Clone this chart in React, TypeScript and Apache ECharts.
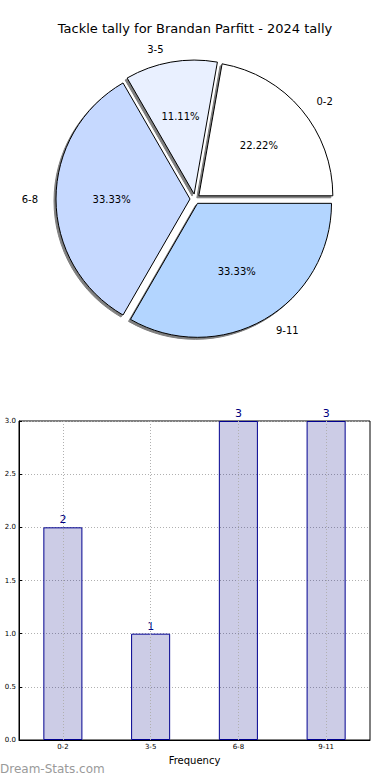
import React, { useEffect, useRef } from "react";
import * as echarts from "echarts";

const titleText = "Tackle tally for Brandan Parfitt - 2024 tally";
const categories = ["0-2", "3-5", "6-8", "9-11"];
const counts = [2, 1, 3, 3];
const pieColors = ["#ffffff", "#e9f0ff", "#c6d9ff", "#b3d5ff"];
const yTicks = { min: 0, max: 3, interval: 0.5 };
const xAxisName = "Frequency";
const watermark = "Dream-Stats.com";

const FONT = "DejaVu Sans";

export default function App() {
  const ref = useRef<HTMLDivElement>(null);
  useEffect(() => {
    document.body.style.margin = "0";
    if (!ref.current) return;
    const chart = echarts.init(ref.current, undefined, { renderer: "svg" });
    const total = counts.reduce((a, b) => a + b, 0);
    const R = 134;
    const pieData = categories.map((c, i) => ({
      name: c,
      value: counts[i],
      selected: true,
      itemStyle: { color: pieColors[i] },
    }));
    chart.setOption({
      animation: false,
      textStyle: { fontFamily: FONT },
      title: {
        text: titleText,
        left: "center",
        top: 17,
        textStyle: { fontFamily: FONT, fontSize: 13, fontWeight: "normal", color: "#000" },
      },
      grid: { left: 19, right: 20, top: 421, bottom: 40, show: true, borderColor: "#000", borderWidth: 1 },
      xAxis: {
        type: "category",
        data: categories,
        axisLine: { show: true, lineStyle: { color: "#000", width: 1 } },
        axisTick: { show: false },
        axisLabel: { fontSize: 7, color: "#000", margin: 3, fontFamily: FONT },
        name: xAxisName,
        nameLocation: "middle",
        nameGap: 15,
        nameTextStyle: { fontSize: 10, color: "#000", fontFamily: FONT },
      },
      yAxis: {
        type: "value",
        min: yTicks.min,
        max: yTicks.max,
        interval: yTicks.interval,
        axisLine: { show: true, lineStyle: { color: "#000" } },
        axisTick: { show: true, inside: true, length: 3, lineStyle: { color: "#000" } },
        axisLabel: {
          fontSize: 7,
          color: "#000",
          margin: 3,
          fontFamily: FONT,
          formatter: (v: number) => v.toFixed(1),
        },
        splitLine: { show: true, lineStyle: { type: [1, 2], color: "#b0b0b0", width: 1 } },
      },
      series: [
        {
          type: "pie",
          center: [195, 199],
          radius: [0, R],
          startAngle: 0,
          clockwise: false,
          selectedMode: "multiple",
          selectedOffset: 5,
          data: pieData,
          itemStyle: {
            borderColor: "#000",
            borderWidth: 1,
            shadowColor: "rgba(0,0,0,0.5)",
            shadowOffsetX: -2,
            shadowOffsetY: 2,
            shadowBlur: 1,
          },
          select: { itemStyle: { borderColor: "#000", borderWidth: 1 } },
          emphasis: { disabled: true },
          label: {
            show: true,
            position: "outside",
            formatter: "{b}",
            fontSize: 10,
            color: "#000",
            fontFamily: FONT,
          },
          labelLine: { show: false, length: 13, length2: 0 },
          silent: true,
          z: 2,
        },
        {
          type: "pie",
          center: [195, 199],
          radius: [0, R * 1.2],
          startAngle: 0,
          clockwise: false,
          data: categories.map((c, i) => ({ name: c, value: counts[i] })),
          itemStyle: { color: "rgba(0,0,0,0)", borderWidth: 0 },
          emphasis: { disabled: true },
          label: {
            show: true,
            position: "inside",
            fontSize: 10,
            color: "#000",
            fontFamily: FONT,
            formatter: (p: any) => ((p.value / total) * 100).toFixed(2) + "%",
          },
          labelLine: { show: false },
          silent: true,
          z: 3,
        },
        {
          type: "bar",
          data: counts,
          barWidth: "44.5%",
          itemStyle: { color: "rgba(0,0,128,0.2)", borderColor: "#000090", borderWidth: 1 },
          label: { show: true, position: "top", distance: 2, fontSize: 11, color: "#000080", fontFamily: FONT },
          markLine: {
            silent: true,
            symbol: ["none", "none"],
            label: { show: false },
            lineStyle: { type: [1, 2], color: "#b0b0b0", width: 1 },
            data: categories.map((c) => ({ xAxis: c })),
          },
          z: 2,
        },
      ],
      graphic: [
        {
          type: "text",
          left: 0,
          top: 763,
          style: { text: watermark, fontSize: 12, fill: "#9a9a9a", fontFamily: FONT },
        },
      ],
    });
    return () => chart.dispose();
  }, []);
  return <div ref={ref} style={{ width: 390, height: 780 }} />;
}
